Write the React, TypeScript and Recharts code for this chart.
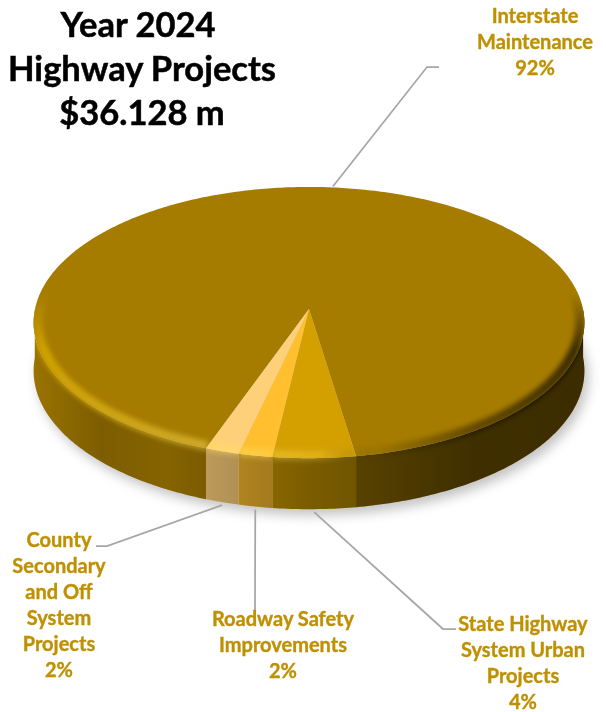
import { PieChart, Pie } from "recharts";

const names = [
  "Interstate Maintenance",
  "State Highway System Urban Projects",
  "Roadway Safety Improvements",
  "County Secondary and Off System Projects",
];
const shares = [92, 4.4, 1.8, 1.8];
const labelLines = [
  ["Interstate", "Maintenance"],
  ["State Highway", "System Urban", "Projects"],
  ["Roadway Safety", "Improvements"],
  ["County", "Secondary", "and Off", "System", "Projects"],
];
const titleLines = ["Year 2024", "Highway Projects", "$36.128 m"];
const rows = names.map((name, i) => ({ name, share: shares[i] }));

// layout, not data
const sliceColors = ["#A67C00", "#D4A000", "#FFBF2E", "#FFD07A"];
const labelSpots = [
  { x: 535, y: 15, elbow: [427, 67], end: [439, 67] },
  { x: 523, y: 623, elbow: [443, 629], end: [456, 629] },
  { x: 283, y: 618, elbow: [255, 600], end: [255, 622] },
  { x: 59, y: 539, elbow: [107, 546], end: [96, 546] },
];
const LABEL_COLOR = "#BF9000";
const LEADER_COLOR = "#A6A6A6";
const FONT = "Lato, sans-serif";

const CX = 309;
const CY = 309;
const RADIUS = 274;
const TILT = 0.49; // vertical squash of the disc
const DEPTH = 0.1; // perspective, far edge smaller than near edge
const rad = Math.PI / 180;

// disc point for an angle, r is a fraction of the radius
function project(cx: number, cy: number, R: number, angle: number, r = 1, drop = 0) {
  const s = Math.sin(angle * rad);
  const w = 1 + DEPTH * r * s;
  return {
    x: cx + (R * r * Math.cos(angle * rad)) / w,
    y: cy - (R * TILT * r * s) / w + drop,
  };
}

const wallDrop = (angle: number) => 48 - 3 * Math.sin(angle * rad);

function sampleAngles(start: number, end: number) {
  const n = Math.max(2, Math.ceil(Math.abs(end - start) / 0.75));
  const out: number[] = [];
  for (let i = 0; i <= n; i++) out.push(start + ((end - start) * i) / n);
  return out;
}

// angle runs that face the viewer
function frontRuns(start: number, end: number, limit = 0) {
  const runs: number[][] = [];
  let run: number[] = [];
  for (const a of sampleAngles(start, end)) {
    if (Math.sin(a * rad) < limit) run.push(a);
    else if (run.length) {
      runs.push(run);
      run = [];
    }
  }
  if (run.length) runs.push(run);
  return runs;
}

const toPath = (pts: { x: number; y: number }[], close = true) =>
  pts.map((p, i) => `${i ? "L" : "M"}${p.x.toFixed(2)} ${p.y.toFixed(2)}`).join("") + (close ? "Z" : "");

function Defs({ cx, cy, R }: { cx: number; cy: number; R: number }) {
  const x1 = cx - R;
  const x2 = cx + R;
  return (
    <defs>
      <linearGradient id="wallShade" gradientUnits="userSpaceOnUse" x1={x1} x2={x2} y1={0} y2={0}>
        <stop offset="0" stopColor="#000" stopOpacity={0.08} />
        <stop offset="0.12" stopColor="#000" stopOpacity={0.25} />
        <stop offset="0.24" stopColor="#000" stopOpacity={0.2} />
        <stop offset="0.36" stopColor="#000" stopOpacity={0.3} />
        <stop offset="0.5" stopColor="#000" stopOpacity={0.42} />
        <stop offset="0.6" stopColor="#000" stopOpacity={0.48} />
        <stop offset="0.8" stopColor="#000" stopOpacity={0.62} />
        <stop offset="1" stopColor="#000" stopOpacity={0.64} />
      </linearGradient>
      <linearGradient id="rimShade" gradientUnits="userSpaceOnUse" x1={x1} x2={x2} y1={0} y2={0}>
        <stop offset="0" stopColor="#F0C000" stopOpacity={0.55} />
        <stop offset="0.35" stopColor="#FFE060" stopOpacity={0.45} />
        <stop offset="0.52" stopColor="#FFE060" stopOpacity={0.25} />
        <stop offset="0.62" stopColor="#000" stopOpacity={0.05} />
        <stop offset="0.8" stopColor="#000" stopOpacity={0.4} />
        <stop offset="1" stopColor="#000" stopOpacity={0.65} />
      </linearGradient>
      <linearGradient id="rimFade" gradientUnits="userSpaceOnUse" x1={0} x2={0} y1={cy - 15} y2={cy + 40}>
        <stop offset="0" stopColor="#fff" stopOpacity={0} />
        <stop offset="1" stopColor="#fff" stopOpacity={1} />
      </linearGradient>
      <mask id="rimMask" maskUnits="userSpaceOnUse" x={0} y={0} width={606} height={712}>
        <rect x={0} y={0} width={606} height={712} fill="url(#rimFade)" />
      </mask>
      <filter id="soft" filterUnits="userSpaceOnUse" x={0} y={0} width={606} height={712}>
        <feGaussianBlur stdDeviation={2.5} />
      </filter>
      <filter id="shadowBlur" filterUnits="userSpaceOnUse" x={0} y={0} width={606} height={712}>
        <feGaussianBlur stdDeviation={6} />
      </filter>
    </defs>
  );
}

function SliceShape(props: any) {
  const { cx, cy, outerRadius: R, startAngle, endAngle, name } = props;
  const idx = names.indexOf(name);
  const fill = sliceColors[idx];
  const arc = sampleAngles(startAngle, endAngle).map((a) => project(cx, cy, R, a));
  const top = toPath([{ x: cx, y: cy }, ...arc]);
  const walls = frontRuns(startAngle, endAngle).map((run) =>
    toPath([
      ...run.map((a) => project(cx, cy, R, a)),
      ...[...run].reverse().map((a) => project(cx, cy, R, a, 1, wallDrop(a))),
    ])
  );
  const rims = frontRuns(startAngle, endAngle, 0.2).map((run) =>
    toPath(run.map((a) => project(cx, cy, R, a, 0.985)), false)
  );
  const clipId = `face-${idx}`;
  return (
    <g>
      {idx === 0 && (
        <>
          <Defs cx={cx} cy={cy} R={R} />
          <path
            d={toPath(sampleAngles(0, 360).map((a) => project(cx + 4, cy + 6, R, a, 1, wallDrop(a))))}
            fill="#000"
            fillOpacity={0.24}
            filter="url(#shadowBlur)"
          />
        </>
      )}
      {walls.map((d, i) => (
        <g key={i}>
          <path d={d} fill={fill} />
          <path d={d} fill="url(#wallShade)" />
        </g>
      ))}
      <clipPath id={clipId}>
        <path d={top} />
        {walls.map((d, i) => (
          <path key={i} d={d} />
        ))}
      </clipPath>
      <path d={top} fill={fill} />
      <g clipPath={`url(#${clipId})`}>
        <g mask="url(#rimMask)">
          {rims.map((d, i) => (
            <path key={i} d={d} fill="none" stroke="url(#rimShade)" strokeWidth={10} filter="url(#soft)" />
          ))}
        </g>
      </g>
    </g>
  );
}

function SliceLabel(props: any) {
  const { cx, cy, outerRadius: R, midAngle, name, percent } = props;
  const idx = names.indexOf(name);
  const spot = labelSpots[idx];
  const lines = [...labelLines[idx], `${Math.round(percent * 100)}%`];
  const front = Math.sin(midAngle * rad) < 0;
  const start = project(cx, cy, R, midAngle, 1, front ? wallDrop(midAngle) + 3 : -1);
  return (
    <g>
      <polyline
        points={`${start.x},${start.y} ${spot.elbow.join(",")} ${spot.end.join(",")}`}
        fill="none"
        stroke={LEADER_COLOR}
        strokeWidth={1.75}
      />
      <text
        textAnchor="middle"
        fontFamily={FONT}
        fontWeight={700}
        fontSize={20}
        fill={LABEL_COLOR}
        stroke={LABEL_COLOR}
        strokeWidth={0.35}
      >
        {lines.map((line, i) => (
          <tspan key={i} x={spot.x} y={spot.y + i * 26} dominantBaseline="central">
            {line}
          </tspan>
        ))}
      </text>
    </g>
  );
}

export default function App() {
  return (
    <div style={{ position: "absolute", left: 0, top: 0, width: 606, height: 712 }}>
      <PieChart width={606} height={712} margin={{ top: 0, right: 0, bottom: 0, left: 0 }}>
        <Pie
          data={rows}
          dataKey="share"
          nameKey="name"
          cx={CX}
          cy={CY}
          outerRadius={RADIUS}
          startAngle={250.1}
          endAngle={-109.9}
          stroke="none"
          shape={SliceShape}
          label={SliceLabel}
          labelLine={false}
          isAnimationActive={false}
        />
      </PieChart>
      <div
        style={{
          position: "absolute",
          left: 0,
          top: 2,
          width: 284,
          textAlign: "center",
          fontFamily: FONT,
          fontWeight: 700,
          fontSize: 34.5,
          lineHeight: "44px",
          color: "#000",
          WebkitTextStroke: "0.5px #000",
        }}
      >
        {titleLines.map((line, i) => (
          <div key={line} style={{ paddingRight: i === 0 ? 8 : 0 }}>
            {line}
          </div>
        ))}
      </div>
    </div>
  );
}
